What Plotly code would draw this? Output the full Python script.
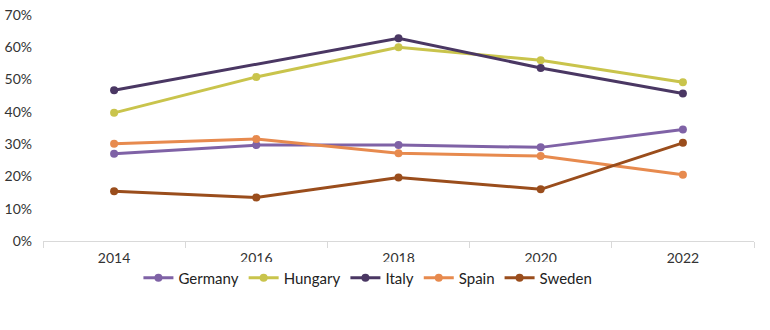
import plotly.graph_objects as go

years = ["2014", "2016", "2018", "2020", "2022"]

germany = [0.270, 0.297, 0.297, 0.290, 0.345]
hungary = [0.397, 0.508, 0.600, 0.560, 0.492]
italy = [0.467, None, 0.628, 0.536, 0.457]
spain = [0.301, 0.316, 0.272, 0.263, 0.205]
sweden = [0.154, 0.135, 0.197, 0.160, 0.304]

series = [
    ("Germany", germany, "#7F62A6"),
    ("Hungary", hungary, "#C9C44C"),
    ("Italy", italy, "#4A3763"),
    ("Spain", spain, "#E78A4E"),
    ("Sweden", sweden, "#9A4D1C"),
]

fig = go.Figure()
for name, vals, color in series:
    fig.add_trace(go.Scatter(
        x=years, y=vals, name=name, mode="lines+markers",
        connectgaps=True,
        line=dict(color=color, width=3),
        marker=dict(color=color, size=8),
    ))

fig.update_layout(
    width=770, height=330,
    margin=dict(l=43, r=16, t=15, b=89),
    paper_bgcolor="white", plot_bgcolor="white",
    font=dict(family="Lato", size=14, color="#333333"),
    showlegend=True,
    legend=dict(orientation="h", x=0.457, xanchor="center", y=-0.164, yanchor="middle",
                font=dict(size=15, color="#222222"), itemwidth=30, tracegroupgap=0),
)
fig.update_xaxes(
    type="category", range=[-0.5, 4.5], automargin=False,
    showgrid=False, showline=True, linecolor="#D9D9D9", linewidth=1,
    ticks="outside", tickson="boundaries", ticklen=6, tickcolor="#D9D9D9",
    ticklabelstandoff=4,
    tickfont=dict(size=14, color="#333333"),
)
fig.update_yaxes(
    range=[0, 0.7], dtick=0.1, tickformat=".0%", automargin=False,
    showgrid=False, zeroline=False, showline=False,
    ticks="", ticklabelstandoff=10,
    tickfont=dict(size=14, color="#333333"),
)

fig.write_html("out.html")
